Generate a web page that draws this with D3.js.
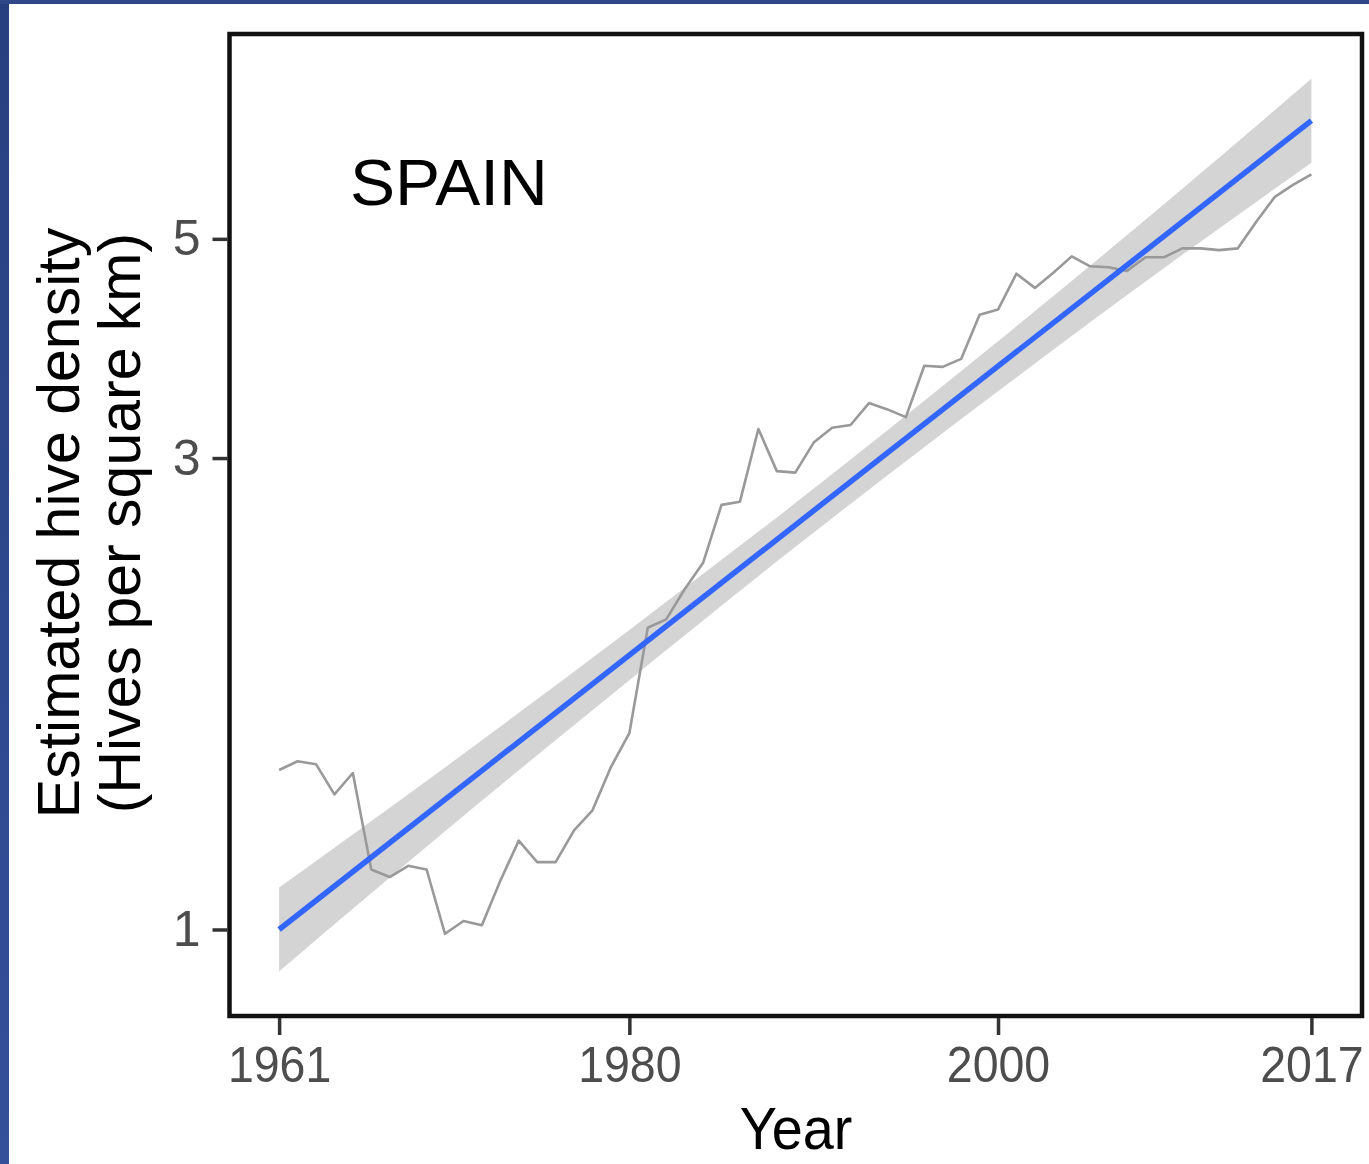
<!DOCTYPE html>
<html>
<head>
<meta charset="utf-8">
<script src="https://cdn.jsdelivr.net/npm/d3@7"></script>
<style>
  body { margin: 0; background: #fff; }
  svg { display: block; }
</style>
</head>
<body>
<div id="chart"></div>
<script>
const years = [1961, 1962, 1963, 1964, 1965, 1966, 1967, 1968, 1969, 1970,
               1971, 1972, 1973, 1974, 1975, 1976, 1977, 1978, 1979, 1980,
               1981, 1982, 1983, 1984, 1985, 1986, 1987, 1988, 1989, 1990,
               1991, 1992, 1993, 1994, 1995, 1996, 1997, 1998, 1999, 2000,
               2001, 2002, 2003, 2004, 2005, 2006, 2007, 2008, 2009, 2010,
               2011, 2012, 2013, 2014, 2015, 2016, 2017];
const density = [1.45, 1.48, 1.47, 1.37, 1.44, 1.15, 1.13, 1.16, 1.15, 0.99,
                 1.02, 1.01, 1.12, 1.23, 1.17, 1.17, 1.26, 1.32, 1.46, 1.58,
                 2.02, 2.06, 2.21, 2.35, 2.69, 2.71, 3.21, 2.91, 2.90, 3.11,
                 3.22, 3.24, 3.41, 3.36, 3.30, 3.72, 3.71, 3.78, 4.19, 4.24,
                 4.61, 4.46, 4.62, 4.80, 4.69, 4.68, 4.64, 4.79, 4.79, 4.89,
                 4.89, 4.87, 4.89, 5.20, 5.51, 5.67, 5.81];

// Linear fit (on log scale) and its confidence band
const fitYears = [1961, 2017];
const fitValues = [1.0, 6.585];
const bandYears = [1961, 1970, 1980, 1989, 2000, 2010, 2017];
const bandLower = [0.907, 1.257, 1.788, 2.438, 3.506, 4.818, 5.970];
const bandUpper = [1.103, 1.459, 2.010, 2.701, 3.939, 5.619, 7.263];

const xTicks = [1961, 1980, 2000, 2017];
const yTicks = [1, 3, 5];

const width = 1369, height = 1164;
const squish = 0.93; // the source picture is slightly narrowed horizontally

const svg = d3.select("#chart")
    .append("svg")
    .attr("width", width)
    .attr("height", height)
    .style("font-family", "'Liberation Sans', Arial, sans-serif");

// Dark blue slide edge at left and top
const grad = svg.append("defs").append("linearGradient")
    .attr("id", "edge").attr("x1", 0).attr("y1", 0).attr("x2", 0).attr("y2", 1);
grad.append("stop").attr("offset", "0%").attr("stop-color", "#27407f");
grad.append("stop").attr("offset", "100%").attr("stop-color", "#34509a");
svg.append("rect").attr("x", 0).attr("y", 0).attr("width", 9).attr("height", height).attr("fill", "url(#edge)");
svg.append("rect").attr("x", 0).attr("y", 0).attr("width", width).attr("height", 4).attr("fill", "#2e4888");

// Panel
const panel = { left: 229.5, right: 1362, top: 34, bottom: 1016 };

const x = d3.scaleLinear()
    .domain([1958.2, 2019.8])
    .range([227.5, 1363]);

const y = d3.scaleLog()
    .domain([Math.exp(-0.2016), Math.exp(2.0868)])
    .range([panel.bottom, panel.top]);

const band = bandYears.map((yr, i) => ({ year: yr, lo: bandLower[i], hi: bandUpper[i] }));
const fit = fitYears.map((yr, i) => ({ year: yr, value: fitValues[i] }));
const obs = years.map((yr, i) => ({ year: yr, value: density[i] }));

// Confidence ribbon
svg.append("path")
    .datum(band)
    .attr("fill", "#d4d4d4")
    .attr("d", d3.area()
        .curve(d3.curveMonotoneX)
        .x(d => x(d.year))
        .y0(d => y(d.lo))
        .y1(d => y(d.hi)));

// Observed series
svg.append("path")
    .datum(obs)
    .attr("fill", "none")
    .attr("stroke", "#999")
    .attr("stroke-width", 2.6)
    .attr("stroke-linejoin", "round")
    .attr("d", d3.line()
        .x(d => x(d.year))
        .y(d => y(d.value)));

// Fitted line
svg.append("path")
    .datum(fit)
    .attr("fill", "none")
    .attr("stroke", "#3366ff")
    .attr("stroke-width", 5.5)
    .attr("d", d3.line()
        .x(d => x(d.year))
        .y(d => y(d.value)));

// Panel border
svg.append("rect")
    .attr("x", panel.left)
    .attr("y", panel.top)
    .attr("width", panel.right - panel.left)
    .attr("height", panel.bottom - panel.top)
    .attr("fill", "none")
    .attr("stroke", "#111")
    .attr("stroke-width", 4.5);

// Axes
const xAxis = svg.append("g")
    .attr("transform", `translate(0,${panel.bottom + 2})`)
    .call(d3.axisBottom(x).tickValues(xTicks).tickFormat(d3.format("d")).tickSize(17).tickPadding(12));

const yAxis = svg.append("g")
    .attr("transform", `translate(${panel.left - 2},0)`)
    .call(d3.axisLeft(y).tickValues(yTicks).tickFormat(d3.format("d")).tickSize(15).tickPadding(12));

[xAxis, yAxis].forEach(g => {
    g.select(".domain").remove();
    g.selectAll(".tick line").attr("stroke", "#333").attr("stroke-width", 3.5);
    g.selectAll(".tick text")
        .attr("fill", "#4d4d4d")
        .style("font-size", "50px");
});
xAxis.selectAll(".tick text").attr("dy", "0.71em")
    .attr("transform", `scale(${squish},1)`);

// Axis titles
svg.append("text")
    .attr("transform", `translate(796,1149) scale(${squish},1)`)
    .attr("text-anchor", "middle")
    .style("font-size", "60px")
    .attr("fill", "#000")
    .text("Year");

const yTitle = svg.append("text")
    .attr("transform", "translate(0,523) rotate(-90)")
    .attr("text-anchor", "middle")
    .style("font-size", "59px")
    .attr("fill", "#000");
yTitle.append("tspan").attr("x", 0).attr("y", 79).text("Estimated hive density");
yTitle.append("tspan").attr("x", 0).attr("y", 140).text("(Hives per square km)");

// Country label
svg.append("text")
    .attr("transform", "translate(350,205) scale(1.04,1)")
    .style("font-size", "65px")
    .attr("fill", "#000")
    .text("SPAIN");
</script>
</body>
</html>
